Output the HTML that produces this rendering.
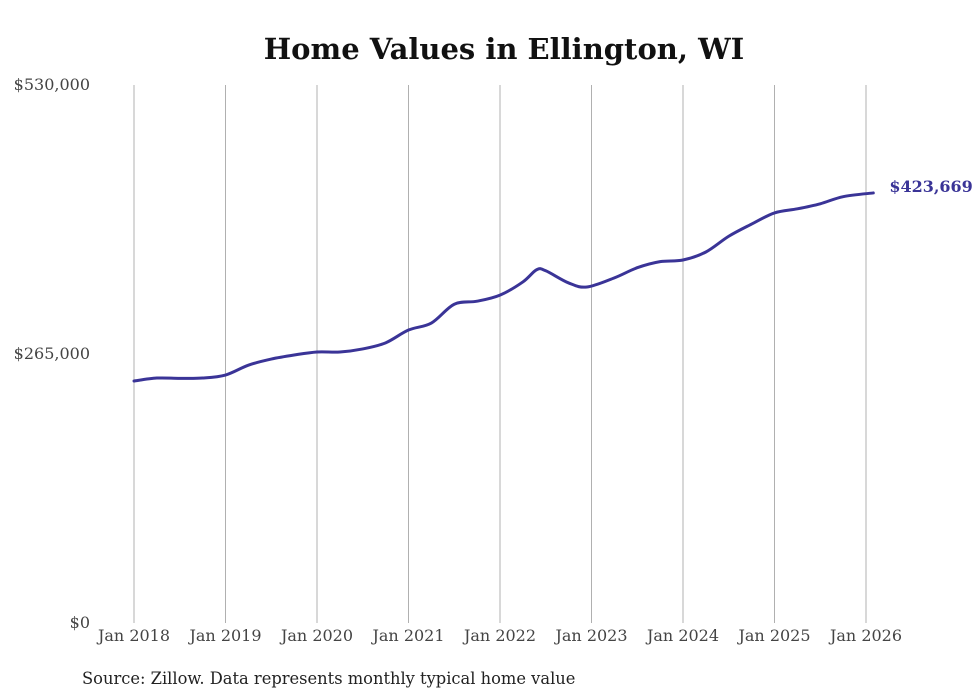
<!DOCTYPE html>
<html><head><meta charset="utf-8"><style>
body{margin:0;background:#fff;}
svg{display:block;font-family:"DejaVu Serif","Liberation Serif",serif;}
</style></head><body>
<svg id="chart" width="980" height="699">
<text x="504" y="59" text-anchor="middle" font-size="29" font-weight="bold" fill="#111">Home Values in Ellington, WI</text>
<g id="grid"></g><g id="yaxis"></g><g id="xaxis"></g><g id="series"></g>
<text x="82" y="684" font-size="16.3" fill="#222">Source: Zillow. Data represents monthly typical home value</text>
</svg>
<script>
const xTickLabels=["Jan 2018","Jan 2019","Jan 2020","Jan 2021","Jan 2022","Jan 2023","Jan 2024","Jan 2025","Jan 2026"];
const xTickYears=[2018,2019,2020,2021,2022,2023,2024,2025,2026];
const yTicks=[0,265000,530000];
const yTickLabels=["$0","$265,000","$530,000"];
const dates=[2018.0,2018.25,2018.5,2018.75,2019.0,2019.25,2019.5,2019.75,2020.0,2020.25,2020.5,2020.75,2021.0,2021.25,2021.5,2021.75,2022.0,2022.25,2022.4,2022.5,2022.75,2022.95,2023.25,2023.5,2023.75,2024.0,2024.25,2024.5,2024.75,2025.0,2025.25,2025.5,2025.75,2026.08];
const values=[238400,241300,241000,241300,244300,254000,260000,264000,267000,267000,270000,276000,288600,295500,314000,317000,323000,336000,348000,347000,335000,331000,340000,350000,356000,357600,365500,381000,393000,404000,408000,413000,420000,423669];
const endLabel="$423,669";
const ns="http://www.w3.org/2000/svg";
const X=y=>134+(y-2018)*91.5;
const Y=v=>623-v*538/530000;
function mk(tag,attrs,parent,text){const e=document.createElementNS(ns,tag);for(const k in attrs)e.setAttribute(k,attrs[k]);if(text!==undefined)e.textContent=text;parent.appendChild(e);return e;}
const grid=document.getElementById('grid'),xa=document.getElementById('xaxis'),ya=document.getElementById('yaxis'),se=document.getElementById('series');
xTickYears.forEach((yr,i)=>{
 const l=mk('line',{x1:X(yr),x2:X(yr),y1:85,y2:623,stroke:'#b0b0b0','stroke-width':1},grid);
 
 
 const t=mk('text',{x:X(yr),y:641,'text-anchor':'middle','font-size':16,fill:'#444'},xa,xTickLabels[i]);
 
 
});
yTicks.forEach((v,i)=>{
 const t=mk('text',{x:90,y:Y(v)+5,'text-anchor':'end','font-size':16,fill:'#444'},ya,yTickLabels[i]);
 
 
});
const pts=dates.map((d,i)=>[X(d),Y(values[i])]);
let dstr='M'+pts[0][0]+','+pts[0][1];
for(let i=0;i<pts.length-1;i++){const p0=pts[i-1]||pts[i],p1=pts[i],p2=pts[i+1],p3=pts[i+2]||p2;
 dstr+=' C'+(p1[0]+(p2[0]-p0[0])/6)+','+(p1[1]+(p2[1]-p0[1])/6)+' '+(p2[0]-(p3[0]-p1[0])/6)+','+(p2[1]-(p3[1]-p1[1])/6)+' '+p2[0]+','+p2[1];}
const path=mk('path',{d:dstr,fill:'none',stroke:'#3a3497','stroke-width':3,'stroke-linejoin':'round','stroke-linecap':'round'},se);


const last=pts[pts.length-1];
const lab=mk('text',{x:last[0]+16,y:last[1]+-1,'font-size':16,'font-weight':'bold',fill:'#3a3497'},se,endLabel);


</script>
</body></html>
